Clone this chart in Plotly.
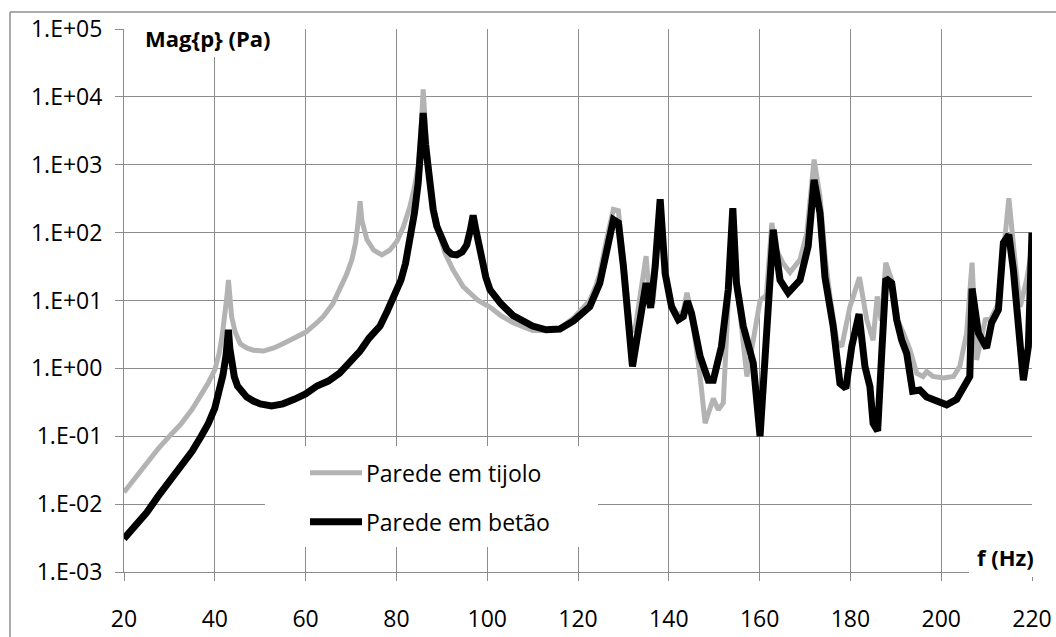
import plotly.graph_objects as go

# Frequency response of the sound pressure magnitude for two wall types
f_tijolo = [20, 22.5, 25, 27.5, 30, 32.5, 35, 37, 38.5, 40, 41, 41.7, 42.3, 42.7, 43, 43.3, 43.7,
            44.5, 45.6, 47, 48.5, 50.7, 53, 55, 57.5, 60, 62, 63.9, 66, 67.6, 69, 70.2, 71, 71.5,
            72, 72.4, 72.8, 73.5, 75, 76.8, 78.5, 80.1, 81.5, 83, 84, 84.8, 85.4, 85.9, 86.4, 87,
            87.5, 88.2, 88.9, 89.8, 90.7, 92.5, 94.7, 96.5, 98, 100.6, 103, 105.7, 110, 113, 116,
            119, 121, 122.6, 124, 124.8, 126.3, 127.8, 128.9, 130, 131.5, 132.5, 134, 135, 135.8,
            136.5, 137.3, 138.1, 139.2, 140.6, 142, 143.2, 144, 145, 146.9, 148, 149.8, 150.9, 152,
            152.8, 153.4, 154.1, 154.9, 156, 157.2, 158.6, 160.1, 161.5, 162.7, 163.5, 165.2,
            166.7, 168.9, 170.4, 172, 173.3, 174.5, 175.5, 177, 178.1, 179.9, 182, 183.6, 185,
            185.9, 186.8, 187.8, 189.1, 190.5, 191.7, 193.1, 194.6, 196, 196.8, 198.2, 200.5,
            202.7, 204.1, 205.6, 206.8, 207.8, 209.7, 211, 212.6, 213.7, 214.9, 216.3, 217.4,
            218.8, 220]
p_tijolo = [0.015, 0.025, 0.04, 0.065, 0.1, 0.15, 0.25, 0.4, 0.6, 0.95, 1.7, 3.3, 6.5, 12, 20, 10, 5.8,
            3.4, 2.3, 2.0, 1.85, 1.8, 2.0, 2.3, 2.8, 3.4, 4.4, 5.8, 9, 14.5, 24, 40, 70, 130,
            290, 150, 110, 79, 55, 47, 55, 74, 120, 245, 480, 960, 3000, 12900, 3500, 1000,
            500, 220, 130, 80, 50, 28, 16, 12, 10, 8, 6, 4.7, 3.6, 3.6, 3.9,
            5.5, 7.5, 10, 17, 25, 80, 220, 210, 40, 4, 3.5, 15, 45, 10,
            9, 40, 300, 28, 9, 6, 7, 13, 6.5, 0.76, 0.155, 0.36, 0.245, 0.31,
            3, 20, 230, 20, 4, 0.76, 2.6, 10, 12, 139, 60, 35,
            26, 40, 98, 1190, 340, 40, 11.5, 2.5, 2.1, 8.1, 22, 5.2, 2.6,
            11.5, 5, 36, 20, 5, 3.3, 1.9, 0.85, 0.76, 0.9, 0.76, 0.72,
            0.76, 1.07, 3.3, 36, 1.33, 5.2, 5.5, 9, 60, 320, 36, 8.1,
            20, 60]

f_betao = [20, 22.5, 25, 27.5, 30, 32.5, 35, 37, 38.5, 40, 41, 41.8, 42.5, 43, 43.3, 43.7, 44.3, 45,
           46, 47, 48.5, 50, 52.5, 55, 57.5, 60, 62.5, 65, 67.5, 70, 72, 74, 76.4, 78, 80, 81, 82,
           83, 84, 84.8, 85.4, 85.9, 86.4, 87, 87.4, 88.1, 88.9, 90, 91.1, 92.2, 93.3, 94.5, 95.5,
           96.3, 96.9, 97.5, 98.1, 98.8, 99.7, 100.6, 101.8, 103, 105.7, 108, 110, 113, 116, 119,
           121, 122.6, 124.8, 126.3, 127.8, 128.9, 130, 132, 133.7, 135, 136, 137, 138.1, 139.2,
           140.6, 142.1, 143.2, 144.1, 145, 146.9, 148.7, 149.8, 151.6, 153.1, 154.1, 154.9,
           156.4, 158.6, 160.1, 161.2, 163, 164.5, 166.3, 168.9, 170.7, 172, 173.3, 174.4, 176.2,
           177.7, 179, 180.3, 181.9, 183.2, 184.3, 185, 186, 186.9, 187.8, 189.1, 190.2, 191.3,
           192.4, 193.7, 195.3, 196.8, 199, 201.2, 203.4, 205.2, 206.3, 206.8, 208.2, 210,
           211.1, 212.6, 213.7, 214.9, 215.9, 218.1, 219.2, 220]
p_betao = [0.0031, 0.0048, 0.0075, 0.013, 0.022, 0.035, 0.06, 0.1, 0.15, 0.26, 0.45, 0.8, 1.6, 3.7,
           2, 1.2, 0.75, 0.55, 0.45, 0.38, 0.33, 0.3, 0.28, 0.3, 0.35, 0.42, 0.55, 0.65, 0.85, 1.3,
           1.8, 2.8, 4.2, 7, 13, 20, 35, 79, 200, 540, 1800, 5800, 2000, 800, 480, 220, 124, 80,
           56, 48, 47, 52, 66, 110, 180, 110, 65, 40, 22, 14.5, 11, 9, 6, 4.8, 4.2, 3.7, 3.8, 5,
           6.5, 8.1, 18, 56, 155, 139, 32, 1.07, 4.7, 18, 7.8, 32, 310, 25,
           8.1, 5.2, 5.8, 9.8, 6.5, 1.5, 0.67, 0.67, 2.1, 14.5, 230, 18,
           4.2, 1.2, 0.1, 1.9, 110, 20, 13, 20, 63, 600, 195, 22, 4.2,
           0.6, 0.51, 2.1, 6.3, 1.07, 0.54, 0.155, 0.12, 1.66, 21, 18, 5.2, 2.6,
           1.66, 0.46, 0.48, 0.38, 0.33, 0.29, 0.35, 0.54, 0.76, 15, 3.3, 2.0,
           4.7, 7.3, 71, 93, 28, 0.67, 2.1, 100]

series_names = ["Parede em tijolo", "Parede em betão"]
series_colors = ["#b3b3b3", "#000000"]
series_widths = [5, 7]

y_tickvals = [1e-3, 1e-2, 1e-1, 1e0, 1e1, 1e2, 1e3, 1e4, 1e5]
y_ticktext = ["1.E-03", "1.E-02", "1.E-01", "1.E+00", "1.E+01", "1.E+02", "1.E+03", "1.E+04", "1.E+05"]
x_tickvals = [20, 40, 60, 80, 100, 120, 140, 160, 180, 200, 220]

FONT = "Open Sans"
GRID = "#8c8c8c"
WIDTH, HEIGHT = 1056, 637

fig = go.Figure()
for fx, py, name, col, w in zip([f_tijolo, f_betao], [p_tijolo, p_betao],
                                series_names, series_colors, series_widths):
    fig.add_trace(go.Scatter(x=fx, y=py, mode="lines", name=name,
                             line=dict(color=col, width=w), showlegend=False))


# the paper spans the whole page; helpers convert page pixels to paper units
def px(x):
    return x / WIDTH


def py_(y):
    return 1 - y / HEIGHT


# plot area edges in page pixels
PL, PR, PT, PB = 124, 1032, 29, 572

shapes = [
    # outer chart border: left edge and top edge
    dict(type="line", xref="paper", yref="paper", x0=px(10), x1=px(10), y0=0, y1=py_(12),
         line=dict(color="#8f8f8f", width=1.5), layer="above"),
    dict(type="line", xref="paper", yref="paper", x0=px(10), x1=1, y0=py_(12), y1=py_(12),
         line=dict(color="#8f8f8f", width=1.5), layer="above"),
    # white backing for the axis titles and legend
    dict(type="rect", xref="paper", yref="paper", x0=px(133), x1=px(282), y0=py_(57), y1=py_(14),
         line=dict(width=0), fillcolor="white", layer="above"),
    dict(type="rect", xref="paper", yref="paper", x0=px(969), x1=px(1045), y0=py_(577), y1=py_(535),
         line=dict(width=0), fillcolor="white", layer="above"),
    dict(type="rect", xref="paper", yref="paper", x0=px(265), x1=px(598), y0=py_(547), y1=py_(446),
         line=dict(width=0), fillcolor="white", layer="above"),
]
# legend samples
for ypix, col, w in zip([472.7, 521.7], series_colors, [5, 7]):
    shapes.append(dict(type="line", xref="paper", yref="paper", x0=px(310), x1=px(362),
                       y0=py_(ypix), y1=py_(ypix), line=dict(color=col, width=w), layer="above"))

annotations = [
    dict(text="<b>Mag{p} (Pa)</b>", xref="paper", yref="paper", x=px(207.5), y=py_(38),
         xanchor="center", yanchor="middle", showarrow=False, font=dict(family=FONT, size=22, color="black")),
    dict(text="<b>f (Hz)</b>", xref="paper", yref="paper", x=px(1005), y=py_(557),
         xanchor="center", yanchor="middle", showarrow=False, font=dict(family=FONT, size=22, color="black")),
]
for ypix, name in zip([472.7, 521.7], series_names):
    annotations.append(dict(text=name, xref="paper", yref="paper", x=px(364), y=py_(ypix),
                            xanchor="left", yanchor="middle", showarrow=False,
                            font=dict(family=FONT, size=23, color="black")))

fig.update_layout(
    width=WIDTH, height=HEIGHT,
    margin=dict(l=0, r=0, t=0, b=0, autoexpand=False),
    paper_bgcolor="white", plot_bgcolor="white",
    font=dict(family=FONT, size=23, color="black"),
    shapes=shapes, annotations=annotations,
    xaxis=dict(domain=[px(PL), px(PR)], range=[20, 220], tickvals=x_tickvals,
               showgrid=True, gridcolor=GRID, gridwidth=1,
               showline=True, linecolor=GRID, linewidth=1, ticks="outside", ticklen=8,
               tickcolor=GRID, tickwidth=1, zeroline=False, ticklabelstandoff=18, automargin=False),
    yaxis=dict(domain=[py_(PB), py_(PT)], type="log", range=[-3, 5], tickvals=y_tickvals,
               ticktext=y_ticktext, showgrid=True, gridcolor=GRID, gridwidth=1, showline=True,
               linecolor=GRID, linewidth=1, ticks="outside", ticklen=8, tickcolor=GRID, tickwidth=1,
               zeroline=False, ticklabelstandoff=8, automargin=False),
)

fig.write_html("out.html")
